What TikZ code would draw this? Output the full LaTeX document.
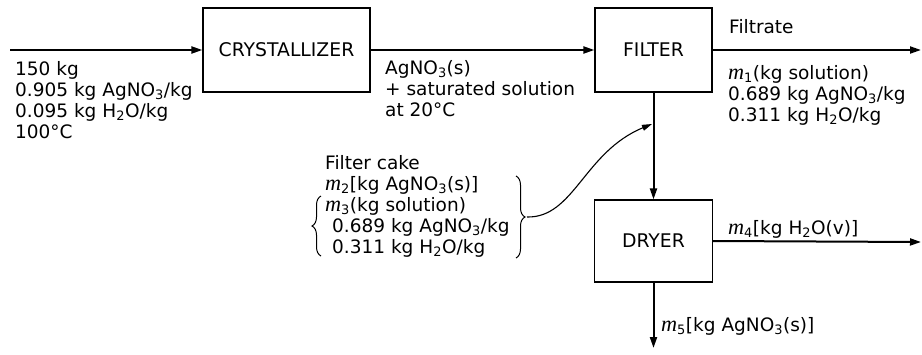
\documentclass[tikz,border=0pt]{standalone}
\usepackage{fontspec}
\setmainfont{DejaVu Sans}
\newfontfamily\mserif[Scale=1.2]{Liberation Serif}
\usetikzlibrary{arrows.meta,decorations.pathreplacing}
\newcommand\sbs[1]{\textsubscript{#1}}
\newcommand\mm[1]{{\mserif\itshape m}\textsubscript{#1}}
\begin{document}
\begin{tikzpicture}[x=1pt,y=-1pt,
  unit/.style={draw, line width=1.2pt, inner sep=0, font=\fontsize{18.8}{21}\selectfont},
  flow/.style={line width=2pt, -{Triangle[length=11pt,width=7pt]}},
  thin/.style={line width=1.1pt, -{Triangle[length=10pt,width=6pt]}},
  lbl/.style={anchor=north west, inner sep=0, align=left, font=\fontsize{18.5}{21}\selectfont},
  bracestyle/.style={line width=1pt, decorate, decoration={brace, amplitude=9pt}}
]
\useasboundingbox (0,0) rectangle (922,354);
% units
\node[unit, minimum width=167pt, minimum height=84pt] (cry) at (286.5,50) {CRYSTALLIZER};
\node[unit, minimum width=117pt, minimum height=84pt] (fil) at (653.5,50) {FILTER};
\node[unit, minimum width=118pt, minimum height=82pt] (dry) at (653.5,241) {DRYER};
% free ends
\coordinate (in) at (10,50);
\coordinate (filout) at (921,50);
\coordinate (dryout) at (921,242);
\coordinate (prod) at (653.5,348);
\coordinate (bt) at (527,217);
\coordinate (jn) at (652,124);
\coordinate (rbt) at (516,176);
\coordinate (rbb) at (516,258);
\coordinate (lbt) at (321,196);
\coordinate (lbb) at (321,256);
% flows
\draw[flow] (in) -- (cry.west);
\draw[flow] (cry.east) -- (fil.west);
\draw[flow] (fil.east) -- (filout);
\draw[flow] (fil.south) -- (dry.north);
\draw[flow] (dry.east) -- (dryout);
\draw[flow] (dry.south) -- (prod);
% filter cake recycle curve
\draw[thin] (bt) .. controls (574,218) and (584,152) .. (jn);
% braces
\draw[bracestyle] (rbt) -- (rbb);
\draw[bracestyle] (lbb) -- (lbt);
% labels
\node[lbl] (feed) at (15,61) {150 kg\\0.905 kg AgNO\sbs{3}/kg\\0.095 kg H\sbs{2}O/kg\\100°C};
\node[lbl] (slurry) at (385,60) {AgNO\sbs{3}(s)\\+ saturated solution\\at 20°C};
\node[lbl] (filtrate) at (729,19) {Filtrate};
\node[lbl] (m1) at (728,65) {\mm{1}(kg solution)\\0.689 kg AgNO\sbs{3}/kg\\0.311 kg H\sbs{2}O/kg};
\node[lbl] (cake) at (325,155) {Filter cake\\\mm{2}[kg AgNO\sbs{3}(s)]\\\mm{3}(kg solution)\\\hspace*{7pt}0.689 kg AgNO\sbs{3}/kg\\\hspace*{7pt}0.311 kg H\sbs{2}O/kg};
\node[lbl] (m4) at (728,220) {\mm{4}[kg H\sbs{2}O(v)]};
\node[lbl] (m5) at (661,317) {\mm{5}[kg AgNO\sbs{3}(s)]};
\end{tikzpicture}
\end{document}
